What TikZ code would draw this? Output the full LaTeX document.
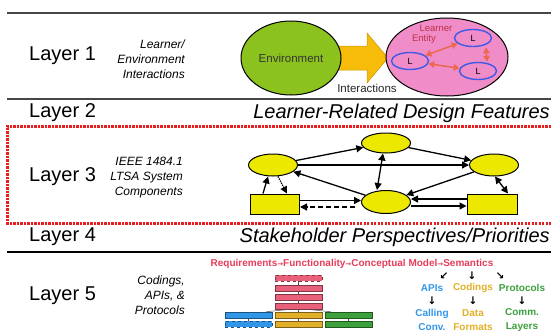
\documentclass[tikz,border=0pt]{standalone}
\usepackage{fontspec}
\setmainfont{Liberation Sans}
\newfontfamily\arrowfont{DejaVu Sans}
\usetikzlibrary{shapes.geometric,arrows.meta}
\definecolor{envgreen}{RGB}{140,194,30}
\definecolor{arrowgold}{RGB}{247,188,10}
\definecolor{entitypink}{RGB}{240,140,200}
\definecolor{lblue}{RGB}{60,90,230}
\definecolor{salmon}{RGB}{235,105,80}
\definecolor{entityred}{RGB}{190,50,70}
\definecolor{compyellow}{RGB}{236,232,0}
\definecolor{boxred}{RGB}{232,30,30}
\definecolor{reqpink}{RGB}{230,60,90}
\definecolor{stkpink}{RGB}{232,96,122}
\definecolor{stkblue}{RGB}{50,150,232}
\definecolor{stkgold}{RGB}{225,176,40}
\definecolor{stkgreen}{RGB}{60,160,60}
\definecolor{rulegray}{RGB}{70,70,70}
\tikzset{
  layerlabel/.style={font=\fontsize{20}{24}\selectfont, anchor=west, inner sep=0pt},
  sublabel/.style={font=\itshape\fontsize{12}{15}\selectfont, align=right, anchor=east, inner sep=0pt},
  headline/.style={font=\itshape\fontsize{20}{24}\selectfont, anchor=east, inner sep=0pt},
  comp/.style={ellipse, draw=black, line width=1pt, fill=compyellow, minimum width=49pt, minimum height=22pt, inner sep=0pt},
  compbox/.style={rectangle, draw=black, line width=1pt, fill=compyellow, minimum width=49pt, minimum height=20pt, inner sep=0pt},
  tipc/.tip={Triangle[length=7pt,width=7pt]},
  flow/.style={line width=1.3pt, -tipc},
  bflow/.style={line width=1.3pt, tipc-tipc},
  lnode/.style={ellipse, draw=lblue, line width=1.4pt, minimum width=37pt, minimum height=17pt, inner sep=0pt, font=\fontsize{9}{10}\selectfont},
  redlink/.style={draw=salmon, line width=1.5pt, {Triangle[length=6pt,width=6.5pt]}-{Triangle[length=6pt,width=6.5pt]}},
  stackbar/.style={rectangle, draw=#1!55!black, fill=#1, minimum width=47pt, minimum height=6pt, inner sep=0pt, line width=0.6pt},
  l5text/.style={font=\bfseries\fontsize{10}{12}\selectfont, inner sep=0pt},
  smallarrow/.style={font=\arrowfont\bfseries\fontsize{10.5}{12}\selectfont, inner sep=0pt},
}
\begin{document}
\begin{tikzpicture}[x=1pt,y=-1pt]
\useasboundingbox (0,0) rectangle (551,332);
% rules
\draw[rulegray, line width=1.6pt] (7,12.7) -- (551,12.7);
\draw[rulegray, line width=1.6pt] (7,99) -- (551,99);
\draw[black, line width=2pt] (7,252) -- (551,252);
% red dashed box
\draw[boxred, line width=3pt, dash pattern=on 2.2pt off 1.3pt] (551,126) -- (7,126) -- (7,223) -- (551,223);

% layer labels
\node[layerlabel] (l1) at (29,56) {Layer 1};
\node[layerlabel] (l2) at (29,113) {Layer 2};
\node[layerlabel] (l3) at (29,177) {Layer 3};
\node[layerlabel] (l4) at (29,237) {Layer 4};
\node[layerlabel] (l5) at (29,296) {Layer 5};

\node[sublabel] (s1) at (185,59) {Learner/\\Environment\\Interactions};
\node[sublabel] (s3) at (183,178) {IEEE 1484.1\\LTSA System\\Components};
\node[sublabel] (s5) at (185,295) {Codings,\\APIs, \&\\Protocols};

\node[headline] (h2) at (550,113) {Learner-Related Design Features};
\node[headline] (h4) at (550,237) {Stakeholder Perspectives/Priorities};

% ---- Layer 1 ----
\fill[arrowgold, draw=arrowgold!80!black, line width=0.5pt]
  (330,46) -- (367,46) -- (367,33) -- (388,58) -- (367,83) -- (367,70) -- (330,70) -- cycle;
\node[ellipse, draw=black, line width=1pt, fill=envgreen, minimum width=100pt, minimum height=74pt, inner sep=0pt,
      font=\fontsize{11.5}{13}\selectfont, text=black!80] (env) at (291,58) {Environment};
\node[font=\fontsize{11.5}{13}\selectfont, text=black!85, inner sep=0pt] (inter) at (367,88) {Interactions};
\node[ellipse, draw=black, line width=1pt, fill=entitypink, minimum width=122pt, minimum height=78pt, inner sep=0pt] (entity) at (447,57) {};
\node[lnode] (la) at (410,61) {L};
\node[lnode] (lb) at (473,38) {L};
\node[lnode] (lc) at (478,71) {L};
\node[font=\fontsize{9.5}{11}\selectfont, text=entityred, inner sep=0pt] (learn) at (436,28) {Learner};
\node[font=\fontsize{9.5}{11}\selectfont, text=entityred, inner sep=0pt] (entt) at (424,39.5) {Entity};
\draw[redlink] (la) -- (lb);
\draw[redlink] ([xshift=13pt]lb.south) -- ([xshift=9pt]lc.north);
\draw[redlink] (la) -- (lc);

% ---- Layer 3 ----
\node[comp] (c1) at (273,165) {};
\node[comp, minimum height=20pt] (c2) at (386,143) {};
\node[comp] (c3) at (494,165) {};
\node[comp, minimum height=23pt] (c4) at (386,202) {};
\node[compbox] (r1) at (275,204) {};
\node[compbox, minimum width=50pt] (r2) at (492,204) {};
\draw[flow] (c1) -- (c2);
\draw[flow] (c2) -- (c3);
\draw[flow] (c1) -- (c3);
\draw[bflow] ([xshift=-3pt]c2.south) -- ([xshift=-9pt]c4.north);
\draw[flow] (c3) -- (c4);
\draw[flow] (c4) -- (c1);
\draw[flow] ([xshift=-12pt]r1.north) -- ([xshift=-5pt]c1.south);
\draw[flow, densely dotted] ([xshift=5pt]c1.south) -- ([xshift=12pt]r1.north);
\draw[flow] ([yshift=3.5pt]r1.east) -- ([yshift=3.5pt]r1.east -| c4.west);
\draw[flow, dash pattern=on 5pt off 3pt] ([yshift=-3pt,xshift=-6pt]c4.west |- r1.east) -- ([yshift=-3pt]r1.east);
\draw[flow] ([yshift=5pt]r2.west) -- ([yshift=5pt]r2.west -| c4.east);
\draw[flow] ([yshift=-2pt]r2.west -| c4.east) -- ([yshift=-2pt]r2.west);
\draw[bflow] ([xshift=1pt]c3.south) -- ([xshift=16pt]r2.north);

% ---- Layer 5 ----
\node[l5text, text=reqpink] (req) at (352,264) {Requirements{\arrowfont\fontsize{7}{8}\selectfont →}Functionality{\arrowfont\fontsize{7}{8}\selectfont →}Conceptual Model{\arrowfont\fontsize{7}{8}\selectfont →}Semantics};
\node[smallarrow] (a1) at (444,276) {↙};
\node[smallarrow] (a2) at (472,276) {↓};
\node[smallarrow] (a3) at (500,276) {↘};
\node[l5text, text=stkblue] (apis) at (432,288) {APIs};
\node[l5text, text=stkgold] (cods) at (473,288) {Codings};
\node[l5text, text=stkgreen] (prots) at (522,288) {Protocols};
\node[smallarrow] (d1) at (432,301) {↓};
\node[smallarrow] (d2) at (473,301) {↓};
\node[smallarrow] (d3) at (522,301) {↓};
\node[l5text, text=stkblue, align=center, font=\bfseries\fontsize{10}{14}\selectfont] (cc) at (432,320) {Calling\\Conv.};
\node[l5text, text=stkgold, align=center, font=\bfseries\fontsize{10}{14}\selectfont] (df) at (473,320) {Data\\Formats};
\node[l5text, text=stkgreen, align=center, font=\bfseries\fontsize{10}{14}\selectfont] (cl) at (522,320) {Comm.\\Layers};

% stack
\node[stackbar=stkpink, dashed] (p1) at (298.5,278) {};
\node[stackbar=stkpink] (p2) at (298.5,288) {};
\node[stackbar=stkpink] (p3) at (298.5,297) {};
\node[stackbar=stkpink] (p4) at (298.5,306) {};
\node[stackbar=stkblue] (b1) at (248.5,315) {};
\node[stackbar=stkblue, dashed] (b2) at (248.5,324) {};
\node[stackbar=stkgold] (g1) at (298.5,315) {};
\node[stackbar=stkgold] (g2) at (298.5,324) {};
\node[stackbar=stkgreen] (n1) at (348.5,315) {};
\node[stackbar=stkgreen] (n2) at (348.5,324) {};
\draw[black!70, line width=0.5pt] (p1) -- (p2);
\draw[black!70, line width=0.5pt] (p2) -- (p3);
\draw[black!70, line width=0.5pt] (p3) -- (p4);
\draw[black!70, line width=0.5pt] (p4) -- (g1);
\draw[black!70, line width=0.5pt] (g1) -- (g2);
\draw[black!70, line width=0.5pt] (b1) -- (b2);
\draw[black!70, line width=0.5pt] (n1) -- (n2);
\draw[black!70, line width=0.5pt] ([xshift=-8pt]p4.south) -- ([xshift=-6pt]b1.north east);
\draw[black!70, line width=0.5pt] ([xshift=8pt]p4.south) -- ([xshift=6pt]n1.north west);
\end{tikzpicture}
\end{document}
